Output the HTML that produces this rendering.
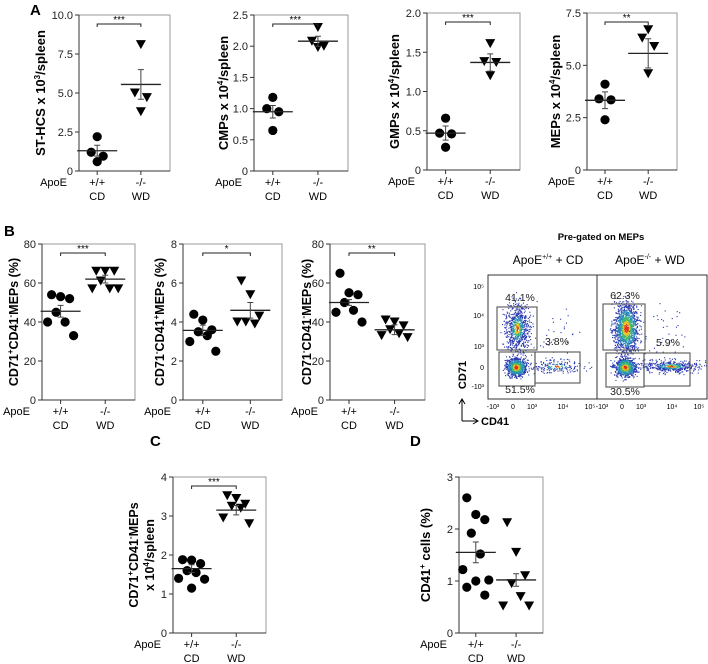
<!DOCTYPE html>
<html><head><meta charset="utf-8"><style>
body{margin:0;background:#fff}
svg{display:block;font-family:"Liberation Sans",Arial,sans-serif}
</style></head><body>
<svg id="fig" width="708" height="664" viewBox="0 0 708 664">
<defs><clipPath id="c1"><rect x="488" y="275" width="109" height="124"/></clipPath><clipPath id="c2"><rect x="597" y="275" width="110" height="124"/></clipPath></defs>
<text x="30" y="15" font-size="15" font-weight="bold">A</text>
<text x="4" y="236" font-size="15" font-weight="bold">B</text>
<text x="150" y="446" font-size="15" font-weight="bold">C</text>
<text x="410" y="446" font-size="15" font-weight="bold">D</text>
<g id="flow"></g>
</svg>
<script>
// ---- chart data ----
const catLabels = ["+/+", "-/-"];
const dietLabels = ["CD", "WD"];
const a1CD = [2.2, 1.2, 0.95, 0.6];
const a1WD = [8.1, 5.0, 4.7, 3.8];
const a1Stats = [1.3, 0.35, 5.55, 0.95];
const a1Ticks = ["0", "2.5", "5.0", "7.5", "10.0"];
const a2CD = [1.18, 1.0, 0.95, 0.65];
const a2WD = [2.3, 2.08, 2.0, 1.98];
const a2Stats = [0.95, 0.1, 2.08, 0.08];
const a2Ticks = ["0", "0.5", "1.0", "1.5", "2.0", "2.5"];
const a3CD = [0.66, 0.47, 0.46, 0.29];
const a3WD = [1.61, 1.38, 1.37, 1.2];
const a3Stats = [0.47, 0.09, 1.37, 0.11];
const a3Ticks = ["0", "0.5", "1.0", "1.5", "2.0"];
const a4CD = [4.1, 3.4, 3.35, 2.4];
const a4WD = [6.7, 6.3, 5.9, 4.6];
const a4Stats = [3.33, 0.4, 5.57, 0.7];
const a4Ticks = ["0", "2.5", "5.0", "7.5"];
const b1CD = [54, 53, 52, 45, 40, 40, 33];
const b1WD = [66, 66, 66, 61, 57, 57, 57];
const b1Stats = [45.5, 3, 62, 2];
const b1Ticks = ["0", "20", "40", "60", "80"];
const b2CD = [4.4, 4.1, 3.6, 3.5, 3.3, 3.0, 2.5];
const b2WD = [6.1, 5.4, 4.3, 4.0, 3.9, 4.0];
const b2Stats = [3.57, 0.27, 4.6, 0.4];
const b2Ticks = ["0", "2", "4", "6", "8"];
const b3CD = [65, 55, 54, 50, 46, 45, 40];
const b3WD = [41, 40, 38, 36, 34, 33, 32];
const b3Stats = [50, 1.5, 36, 2.5];
const b3Ticks = ["0", "20", "40", "60", "80"];
const cCD = [1.88, 1.87, 1.78, 1.6, 1.55, 1.4, 1.38, 1.15];
const cWD = [3.52, 3.45, 3.3, 3.25, 3.2, 2.95, 2.8];
const cStats = [1.65, 0.1, 3.15, 0.12];
const cTicks = ["0", "1", "2", "3", "4"];
const dCD = [2.6, 2.28, 2.18, 1.92, 1.52, 1.22, 1.02, 1.0, 0.88, 0.73];
const dWD = [2.12, 1.55, 1.1, 0.95, 0.7, 0.52, 0.52];
const dStats = [1.55, 0.2, 1.02, 0.12];
const dTicks = ["0", "1", "2", "3"];
const flowPercents = ["41.1%", "3.8%", "51.5%", "62.3%", "5.9%", "30.5%"];

const NS = "http://www.w3.org/2000/svg";
const svg = document.getElementById("fig");
function mk(tag, attrs, parent, txt) {
  const e = document.createElementNS(NS, tag);
  for (const k in attrs) e.setAttribute(k, attrs[k]);
  if (txt !== undefined) e.textContent = txt;
  (parent || svg).appendChild(e);
  return e;
}

function yTitle(g, x, yc, parts, fs) {
  const yl = mk("text", {transform: `translate(${x},${yc}) rotate(-90)`, "font-size": fs, "font-weight": "bold", "text-anchor": "middle"}, g);
  
  
  parts.forEach(p => {
    const ts = mk("tspan", {}, yl, p[0]);
    if (p[1] === "sup") { ts.setAttribute("font-size", 8); ts.setAttribute("dy", -5); }
    if (p[2]) ts.setAttribute("dy", 5);
  });
}

function dotPlot(name, L, R, T, B, ticks, cd, wd, stats, yLabelParts, stars, ylOff, fs) {
  const g = mk("g", {});
  
  
  const maxV = parseFloat(ticks[ticks.length - 1]);
  const y = v => B - (v / maxV) * (B - T);
  const w = R - L;
  const cx = [L + w * 0.2, L + w * 0.68];
  mk("rect", {x: L, y: T, width: w, height: B - T, fill: "none", stroke: "#999", "stroke-width": 1}, g);
  mk("line", {x1: L, y1: T, x2: L, y2: B, stroke: "#333"}, g);
  mk("line", {x1: L, y1: B, x2: R, y2: B, stroke: "#333"}, g);
  ticks.forEach(t => {
    const yy = y(parseFloat(t));
    mk("line", {x1: L - 4, y1: yy, x2: L, y2: yy, stroke: "#333"}, g);
    const tl = mk("text", {x: L - 6, y: yy + 4, "font-size": 11, "text-anchor": "end", fill: "#222"}, g, t);
    
    
  });
  cx.forEach((c, i) => {
    mk("line", {x1: c, y1: B, x2: c, y2: B + 4, stroke: "#333"}, g);
    const t1 = mk("text", {x: c, y: B + 15, "font-size": 11, "text-anchor": "middle"}, g, catLabels[i]);
    
    
    const t2 = mk("text", {x: c, y: B + 29, "font-size": 11, "text-anchor": "middle"}, g, dietLabels[i]);
    
    
  });
  const ap = mk("text", {x: L - 12, y: B + 15, "font-size": 11, "text-anchor": "end"}, g, "ApoE");
  
  
  if (yLabelParts) yTitle(g, L - ylOff, (T + B) / 2, yLabelParts, fs || 13);
  const offs = [-9, 0, 9, -4.5, 4.5, -13, 13, 0, -9, 9];
  [cd, wd].forEach((arr, gi) => {
    const n = arr.length;
    arr.forEach((v, i) => {
      const dx = n <= 4 ? [0, -6, 6, 0][i] : offs[i % offs.length];
      const px = cx[gi] + dx, py = y(v);
      let m;
      if (gi === 0) m = mk("circle", {cx: px, cy: py, r: 4.6, fill: "#000"}, g);
      else m = mk("path", {d: `M${px - 5},${py - 4.5}L${px + 5},${py - 4.5}L${px},${py + 4.5}Z`, fill: "#000"}, g);
      
      
    });
    const mean = stats[gi * 2], sem = stats[gi * 2 + 1];
    const ml = mk("line", {x1: cx[gi] - 20, y1: y(mean), x2: cx[gi] + 20, y2: y(mean), stroke: "#222", "stroke-width": 1.3}, g);
    
    
    const el = mk("path", {d: `M${cx[gi]},${y(mean + sem)}V${y(mean - sem)}M${cx[gi] - 3},${y(mean + sem)}h6M${cx[gi] - 3},${y(mean - sem)}h6`, stroke: "#444", fill: "none"}, g);
    
    
  });
  if (stars) {
    const by = T + 9;
    mk("path", {d: `M${cx[0]},${by + 3}V${by}H${cx[1]}V${by + 3}`, stroke: "#222", fill: "none"}, g);
    const st = mk("text", {x: (cx[0] + cx[1]) / 2, y: by - 1, "font-size": 10, "text-anchor": "middle"}, g, stars);
    
    
  }
  return g;
}

dotPlot("plot-st-hcs", 79, 170, 15, 171, a1Ticks, a1CD, a1WD, a1Stats, [["ST-HCS x 10"], ["3", "sup"], ["/spleen", null, true]], "***", 34, 13);
dotPlot("plot-cmps", 254, 348, 15, 171, a2Ticks, a2CD, a2WD, a2Stats, [["CMPs x 10"], ["4", "sup"], ["/spleen", null, true]], "***", 26, 13);
dotPlot("plot-gmps", 427, 520, 13, 170, a3Ticks, a3CD, a3WD, a3Stats, [["GMPs x 10"], ["4", "sup"], ["/spleen", null, true]], "***", 28, 13);
dotPlot("plot-meps", 587, 677, 13, 170, a4Ticks, a4CD, a4WD, a4Stats, [["MEPs x 10"], ["4", "sup"], ["/spleen", null, true]], "**", 27, 13);
dotPlot("plot-cd71pos-cd41neg", 42, 135, 244, 400, b1Ticks, b1CD, b1WD, b1Stats, [["CD71"], ["+", "sup"], ["CD41", null, true], ["-", "sup"], ["MEPs (%)", null, true]], "***", 24, 12.5);
dotPlot("plot-cd71neg-cd41pos", 183, 282, 244, 400, b2Ticks, b2CD, b2WD, b2Stats, [["CD71"], ["-", "sup"], ["CD41", null, true], ["+", "sup"], ["MEPs (%)", null, true]], "*", 19, 12.5);
dotPlot("plot-cd71neg-cd41neg", 330, 425, 244, 400, b3Ticks, b3CD, b3WD, b3Stats, [["CD71"], ["-", "sup"], ["CD41", null, true], ["-", "sup"], ["MEPs (%)", null, true]], "**", 19, 12.5);
const gC = dotPlot("plot-cd71pos-per-spleen", 173, 266, 477, 633, cTicks, cCD, cWD, cStats, null, "***", 0, 12.5);
yTitle(gC, 138, 555, [["CD71"], ["+", "sup"], ["CD41", null, true], ["-", "sup"], ["MEPs", null, true]], 12.5);
yTitle(gC, 154, 555, [["x 10"], ["4", "sup"], ["/spleen", null, true]], 12.5);
dotPlot("plot-cd41-cells", 459, 543, 477, 633, dTicks, dCD, dWD, dStats, [["CD41"], ["+", "sup"], [" cells  (%)", null, true]], null, 29, 13);

// ---- flow cytometry (decorative density scatter) ----
const fg = document.getElementById("flow");
let seed = 7;
function rnd() { seed = (seed * 16807) % 2147483647; return seed / 2147483647; }
function gauss() { return (rnd() + rnd() + rnd() + rnd() - 2) * 1.73; }
const fT = 275, fB = 399;
const boxes = [[488, 597], [597, 707]];
function cloud(par, ox, oy, sx, sy, n, hot) {
  for (let i = 0; i < n; i++) {
    const gx = gauss(), gy = gauss();
    const x = ox + gx * sx, yv = oy + gy * sy;
    const d = Math.sqrt(gx * gx + gy * gy) / hot;
    const col = d < 0.4 ? "#e03020" : d < 0.7 ? "#f0c020" : d < 1.1 ? "#40b870" : d < 1.7 ? "#2a8ab8" : "#2838b0";
    mk("rect", {x: x.toFixed(1), y: yv.toFixed(1), width: 1.1, height: 1.1, fill: col}, par);
  }
}
boxes.forEach((b, k) => {
  const o = b[0] - 488;
  const cg = mk("g", {"clip-path": k ? "url(#c2)" : "url(#c1)"}, fg);
  cloud(cg, 556 + o + (k ? 6 : 0), 366, k ? 14 : 12, 3, k ? 450 : 180, 0.5);
  cloud(cg, 517 + o, 328, 6, k ? 12 : 13, k ? 1300 : 700, k ? 0.9 : 0.55);
  cloud(cg, 516 + o, 367, 5, 4.5, 800, 1);
  cloud(cg, 550 + o, 335, 15, 15, 40, 0.1);
  const fr = mk("rect", {x: b[0], y: fT, width: b[1] - b[0], height: fB - fT, fill: "none", stroke: "#333"}, fg);
  
  
  const gates = k ? [[603, 304, 42, 46], [606, 353, 38, 34], [644, 353, 46, 33]] : [[497, 307, 40, 43], [499, 352, 36, 34], [535, 352, 45, 31]];
  gates.forEach(gt => mk("rect", {x: gt[0], y: gt[1], width: gt[2], height: gt[3], fill: "none", stroke: "#555", "stroke-width": 1.1}, fg));
  const lp = k ? [[625, 299], [668, 346], [625, 395]] : [[520, 301], [557, 345], [520, 393]];
  lp.forEach((p, i) => {
    const t = mk("text", {x: p[0], y: p[1], "font-size": 10.5, "text-anchor": "middle", fill: "#222"}, fg, flowPercents[k * 3 + i]);
    
    
  });
  const xt = [["-10³", 493], ["0", 513], ["10³", 532], ["10⁴", 563], ["10⁵", 590]];
  xt.forEach(x => mk("text", {x: x[1] + o, y: 409, "font-size": 7, "text-anchor": "middle"}, fg, x[0]));
});
[["10⁵", 287], ["10⁴", 316], ["10³", 347], ["0", 368], ["-10³", 387]].forEach(t =>
  mk("text", {x: 484, y: t[1] + 2, "font-size": 7, "text-anchor": "end"}, fg, t[0]));
const pt = mk("text", {x: 601, y: 240, "font-size": 9.5, "font-weight": "bold", "text-anchor": "middle"}, fg, "Pre-gated on MEPs");


[[548, "+/+", "CD"], [650, "-/-", "WD"]].forEach(h => {
  const t = mk("text", {x: h[0], y: 264, "font-size": 12, "text-anchor": "middle"}, fg);
  
  
  mk("tspan", {}, t, "ApoE");
  mk("tspan", {"font-size": 7, dy: -5}, t, h[1]);
  mk("tspan", {dy: 5}, t, " + " + h[2]);
});
mk("path", {d: "M462,421V400M459,404L462,399L465,404M462,421H477M473,418L478,421L473,424", stroke: "#000", fill: "none"}, fg);
const cy = mk("text", {transform: "translate(466,375) rotate(-90)", "font-size": 11, "font-weight": "bold", "text-anchor": "middle"}, fg, "CD71");


const cxl = mk("text", {x: 481, y: 425, "font-size": 11, "font-weight": "bold"}, fg, "CD41");


</script>
</body></html>
